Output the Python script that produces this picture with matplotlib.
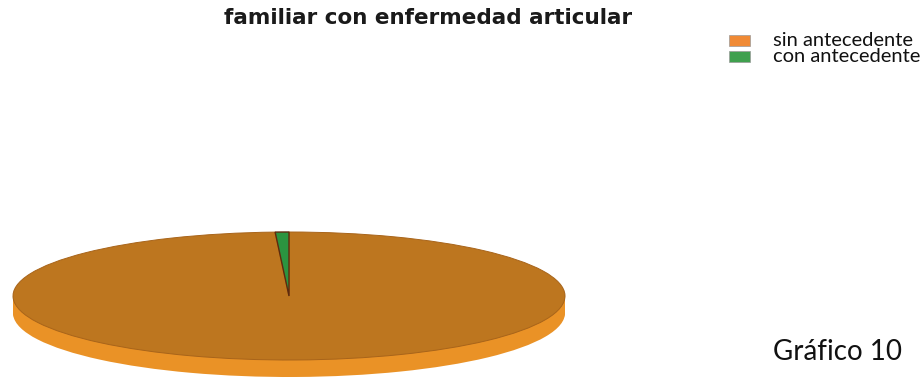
import matplotlib
matplotlib.use("Agg")
import matplotlib.pyplot as plt

# Family history of joint disease (percent of respondents)
categories = ["sin antecedente", "con antecedente"]
values = [99.2, 0.8]

top_colors = ["#BD761F", "#2B9440"]
side_colors = ["#EA9226", "#2B9440"]
legend_colors = ["#F08A35", "#3FA04E"]

W, H = 924, 381
fig = plt.figure(figsize=(W / 100, H / 100), dpi=100)
fig.patch.set_facecolor("white")

# pie axes (pixel geometry of the flattened disc)
left_px, right_px = 13, 565
top_px, bottom_px = 232, 377
depth = 17 / 64.0
ax = fig.add_axes([left_px / W, (H - bottom_px) / H,
                   (right_px - left_px) / W, (bottom_px - top_px) / H])

# side of the disc: same slices stacked downward
for k in range(1, 13):
    ax.pie(values, colors=side_colors, startangle=90, counterclock=False,
           center=(0, -depth * k / 12), radius=1,
           wedgeprops=dict(linewidth=0, edgecolor="none"), frame=True)

# top face
wedges, _ = ax.pie(values, colors=top_colors, startangle=90, counterclock=False,
                   center=(0, 0), radius=1,
                   wedgeprops=dict(linewidth=0.7, edgecolor="#A8641A"), frame=True)
wedges[1].set_edgecolor("#5E2A0E")
wedges[1].set_linewidth(1.0)
ax.set_aspect("auto")
ax.set_xlim(-1, 1)
ax.set_ylim(-1 - depth, 1)
ax.axis("off")

# title
fig.text(428 / W, 1 - 18 / H, "familiar con enfermedad articular",
         ha="center", va="center", fontsize=15.5, fontweight="bold",
         family="DejaVu Sans", color="#1a1a1a")

# legend
for i, (lab, col) in enumerate(zip(categories, legend_colors)):
    yc = 40 + i * 16
    fig.patches.append(plt.Rectangle((729 / W, 1 - (yc + 6) / H), 21 / W, 11 / H,
                                     transform=fig.transFigure, facecolor=col,
                                     edgecolor="#9a9a9a", linewidth=0.5))
    fig.text(773 / W, 1 - yc / H, lab, ha="left", va="center",
             fontsize=14.5, family="Lato", color="#111111")

fig.text(773 / W, 1 - 352 / H, "Gráfico 10", ha="left", va="center",
         fontsize=20, family="Lato", color="#111111")

fig.savefig("out.png", dpi=100, facecolor="white")
